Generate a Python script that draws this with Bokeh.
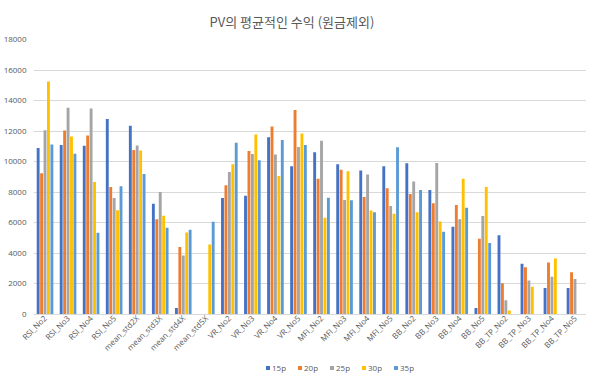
from bokeh.plotting import figure
from bokeh.models import ColumnDataSource, FactorRange, Range1d, Legend, LegendItem, FixedTicker, NumeralTickFormatter
from bokeh.transform import dodge
from bokeh.layouts import column
from bokeh.embed import file_html
from bokeh.resources import INLINE
import math

categories = ["RSI_No2", "RSI_No3", "RSI_No4", "RSI_No5", "mean_std2X", "mean_std3X",
              "mean_std4X", "mean_std5X", "VR_No2", "VR_No3", "VR_No4", "VR_No5",
              "MFI_No2", "MFI_No3", "MFI_No4", "MFI_No5", "BB_No2", "BB_No3", "BB_No4",
              "BB_No5", "BB_TP_No2", "BB_TP_No3", "BB_TP_No4", "BB_TP_No5"]

series_names = ["15p", "20p", "25p", "30p", "35p"]

v15 = [10900, 11100, 11050, 12800, 12350, 7250, 420, 0, 7620, 7780, 11600, 9700,
       10620, 9830, 9420, 9700, 9900, 8150, 5740, 420, 5180, 3320, 1730, 1730]
v20 = [9250, 12050, 11720, 8340, 10770, 6240, 4420, 0, 8460, 10700, 12300, 13390,
       8880, 9470, 7690, 8260, 7890, 7280, 7170, 4960, 2040, 3100, 3400, 2770]
v25 = [12060, 13540, 13480, 7620, 11070, 8020, 3860, 0, 9320, 10510, 10480, 10960,
       11380, 7500, 9170, 7100, 8710, 9920, 6240, 6450, 930, 2230, 2470, 2320]
v30 = [15250, 11650, 8680, 6830, 10730, 6460, 5370, 4590, 9840, 11790, 9060, 11850,
       6330, 9380, 6800, 6590, 6700, 6090, 8880, 8340, 260, 1820, 3660, 0]
v35 = [11120, 10530, 5350, 8390, 9200, 5680, 5550, 6070, 11250, 10100, 11420, 11090,
       7650, 7480, 6700, 10940, 8150, 5420, 6980, 4680, 0, 0, 0, 0]

y_ticks = [0, 2000, 4000, 6000, 8000, 10000, 12000, 14000, 16000, 18000]

colors = ["#4472C4", "#ED7D31", "#A5A5A5", "#FFC000", "#5B9BD5"]

source = ColumnDataSource(data=dict(cat=categories, s15=v15, s20=v20, s25=v25, s30=v30, s35=v35))
keys = ["s15", "s20", "s25", "s30", "s35"]

p = figure(x_range=FactorRange(*categories), y_range=Range1d(0, 18000),
           width=586, height=359, output_backend="svg", toolbar_location=None,
           title="PV의 평균적인 수익 (원금제외)", min_border_left=30, min_border_right=0,
           min_border_top=4, min_border_bottom=41)

p.title.align = "left"
p.title.offset = 176
p.title.standoff = 18
p.title.text_font = "Noto Sans CJK KR"
p.title.text_font_size = "13px"
p.title.text_font_style = "normal"
p.title.text_color = "#595959"

pitch = 0.149
width = 0.125
for i, k in enumerate(keys):
    p.vbar(x=dodge("cat", (i - 2) * pitch, range=p.x_range), top=k, width=width,
           source=source, fill_color=colors[i], line_color=None)

p.outline_line_color = None
p.xgrid.grid_line_color = None
p.ygrid.grid_line_color = "#D9D9D9"
p.ygrid.grid_line_width = 1

p.yaxis.axis_label = None
p.yaxis.ticker = FixedTicker(ticks=y_ticks)
p.yaxis.formatter = NumeralTickFormatter(format="0")
p.yaxis.axis_line_color = None
p.yaxis.major_tick_line_color = None
p.yaxis.minor_tick_line_color = None
p.yaxis.major_tick_out = 0
p.yaxis.major_tick_in = 0
p.yaxis.major_label_text_font = "Open Sans"
p.yaxis.major_label_text_font_size = "8px"
p.yaxis.major_label_text_color = "#595959"
p.yaxis.major_label_standoff = 7

p.xaxis.axis_label = None
p.xaxis.axis_line_color = "#D9D9D9"
p.xaxis.major_tick_line_color = None
p.xaxis.minor_tick_line_color = None
p.xaxis.major_tick_out = 0
p.xaxis.major_tick_in = 0
p.xaxis.major_label_orientation = math.pi / 4
p.xaxis.major_label_text_font = "Open Sans"
p.xaxis.major_label_text_font_size = "8px"
p.xaxis.major_label_text_color = "#595959"
p.xaxis.major_label_standoff = 2

# legend strip: its bar renderers are hidden, only the legend is drawn
p2 = figure(x_range=p.x_range, y_range=Range1d(0, 1), width=586, height=14,
            output_backend="svg", toolbar_location=None,
            x_axis_location=None, y_axis_location=None,
            min_border_left=0, min_border_right=0, min_border_top=0, min_border_bottom=0)
p2.outline_line_color = None
p2.grid.visible = False
renderers = []
for i, k in enumerate(keys):
    r = p2.vbar(x=dodge("cat", (i - 2) * pitch, range=p2.x_range), top=k, width=width,
                source=source, fill_color=colors[i], line_color=None, visible=False)
    renderers.append(r)

legend = Legend(items=[LegendItem(label=n, renderers=[r]) for n, r in zip(series_names, renderers)],
                orientation="horizontal", location=(232, 0))
legend.label_text_font = "Open Sans"
legend.label_text_font_size = "8px"
legend.label_text_color = "#595959"
legend.glyph_width = 5
legend.glyph_height = 5
legend.label_standoff = 2
legend.spacing = 5
legend.label_height = 8
legend.border_line_color = None
legend.background_fill_alpha = 0
legend.inactive_fill_alpha = 0
legend.padding = 1
legend.margin = 0
p2.add_layout(legend, "center")

layout = column(p, p2, spacing=0)
open("out.html", "w").write(file_html(layout, INLINE))
